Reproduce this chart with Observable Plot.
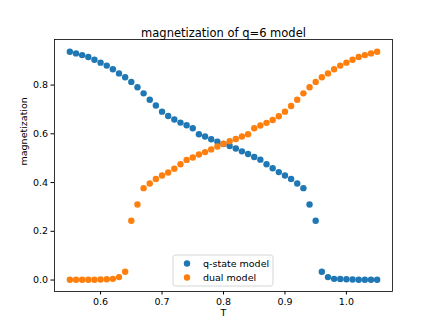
<!DOCTYPE html>
<html>
<head>
<meta charset="utf-8">
<script src="https://cdn.jsdelivr.net/npm/d3@7"></script>
<script src="https://cdn.jsdelivr.net/npm/@observablehq/plot@0.6"></script>
<style>
  html, body { margin: 0; padding: 0; background: #fff; }
  #chart svg { display: block; font-family: "DejaVu Sans", sans-serif; }
</style>
</head>
<body>
<div id="chart"></div>
<script>
const T = [0.55,0.56,0.57,0.58,0.59,0.60,0.61,0.62,0.63,0.64,0.65,0.66,0.67,0.68,0.69,0.70,0.71,0.72,0.73,0.74,0.75,0.76,0.77,0.78,0.79,0.80,0.81,0.82,0.83,0.84,0.85,0.86,0.87,0.88,0.89,0.90,0.91,0.92,0.93,0.94,0.95,0.96,0.97,0.98,0.99,1.00,1.01,1.02,1.03,1.04,1.05];
const qState = [0.937,0.930,0.923,0.915,0.904,0.892,0.880,0.865,0.848,0.832,0.813,0.791,0.766,0.740,0.716,0.691,0.673,0.659,0.646,0.635,0.623,0.598,0.589,0.578,0.568,0.558,0.550,0.540,0.528,0.517,0.505,0.494,0.475,0.459,0.443,0.429,0.415,0.396,0.377,0.310,0.243,0.034,0.012,0.005,0.004,0.003,0.002,0.001,0.001,0.001,0.001];
const dual = [0.001,0.001,0.001,0.001,0.001,0.002,0.003,0.005,0.012,0.034,0.243,0.310,0.377,0.396,0.415,0.429,0.441,0.457,0.475,0.493,0.503,0.515,0.525,0.536,0.548,0.559,0.570,0.579,0.589,0.598,0.623,0.634,0.645,0.657,0.672,0.691,0.714,0.740,0.766,0.791,0.813,0.832,0.848,0.865,0.880,0.892,0.904,0.915,0.923,0.930,0.937];
const seriesNames = ["q-state model", "dual model"];
const seriesColors = ["#1f77b4", "#ff7f0e"];
const xTicks = [0.6, 0.7, 0.8, 0.9, 1.0];
const yTicks = [0.0, 0.2, 0.4, 0.6, 0.8];
const titleText = "magnetization of q=6 model";
const xLabel = "T";
const yLabel = "magnetization";

const rows = [];
T.forEach((t, i) => {
  rows.push({T: t, m: qState[i], s: seriesNames[0]});
});
T.forEach((t, i) => {
  rows.push({T: t, m: dual[i], s: seriesNames[1]});
});

const W = 436, H = 327;
const mL = 54, mR = 44, mT = 39, mB = 36;

const chart = Plot.plot({
  width: W, height: H,
  marginLeft: mL, marginRight: mR, marginTop: mT, marginBottom: mB,
  style: {fontFamily: "DejaVu Sans, sans-serif", fontSize: "9.5px", color: "#000", background: "#fff"},
  x: {domain: [0.525, 1.075]},
  y: {domain: [-0.047, 0.987]},
  color: {domain: seriesNames, range: seriesColors},
  marks: [
    Plot.axisX({ticks: xTicks, tickFormat: d3.format(".1f"), tickSize: 3.5, tickPadding: 3, label: null, fontSize: 9.5}),
    Plot.axisY({ticks: yTicks, tickFormat: d3.format(".1f"), tickSize: 3.5, tickPadding: 3, label: null, fontSize: 9.5}),
    Plot.dot(rows, {x: "T", y: "m", fill: "s", r: 3.2, stroke: null}),
    Plot.frame({stroke: "#000", strokeWidth: 0.8}),
    Plot.text([titleText], {frameAnchor: "top", dy: -11, text: d => d, fontSize: 11.5, fill: "#000"}),
    Plot.text([xLabel], {frameAnchor: "bottom", dy: 24, text: d => d, fontSize: 9.5, fill: "#000"}),
    Plot.text([yLabel], {frameAnchor: "left", dx: -31, rotate: -90, text: d => d, fontSize: 9.5, fill: "#000"})
  ]
});
document.getElementById("chart").appendChild(chart);

// legend (lower center, matplotlib style)
const svg = d3.select(chart);
const lg = svg.append("g").attr("transform", "translate(173,255)").attr("text-anchor", "start");
lg.append("rect").attr("width", 100).attr("height", 31).attr("rx", 2.5)
  .attr("fill", "#fff").attr("fill-opacity", 0.8).attr("stroke", "#ccc").attr("stroke-width", 0.8);
seriesNames.forEach((name, i) => {
  const y = 8.5 + i * 14;
  lg.append("circle").attr("cx", 14).attr("cy", y).attr("r", 3.2).attr("fill", seriesColors[i]);
  lg.append("text").attr("x", 30).attr("y", y).attr("dy", "0.35em")
    .attr("text-anchor", "start")
    .attr("font-size", 9.5).attr("fill", "#000").text(name);
});
</script>
</body>
</html>
